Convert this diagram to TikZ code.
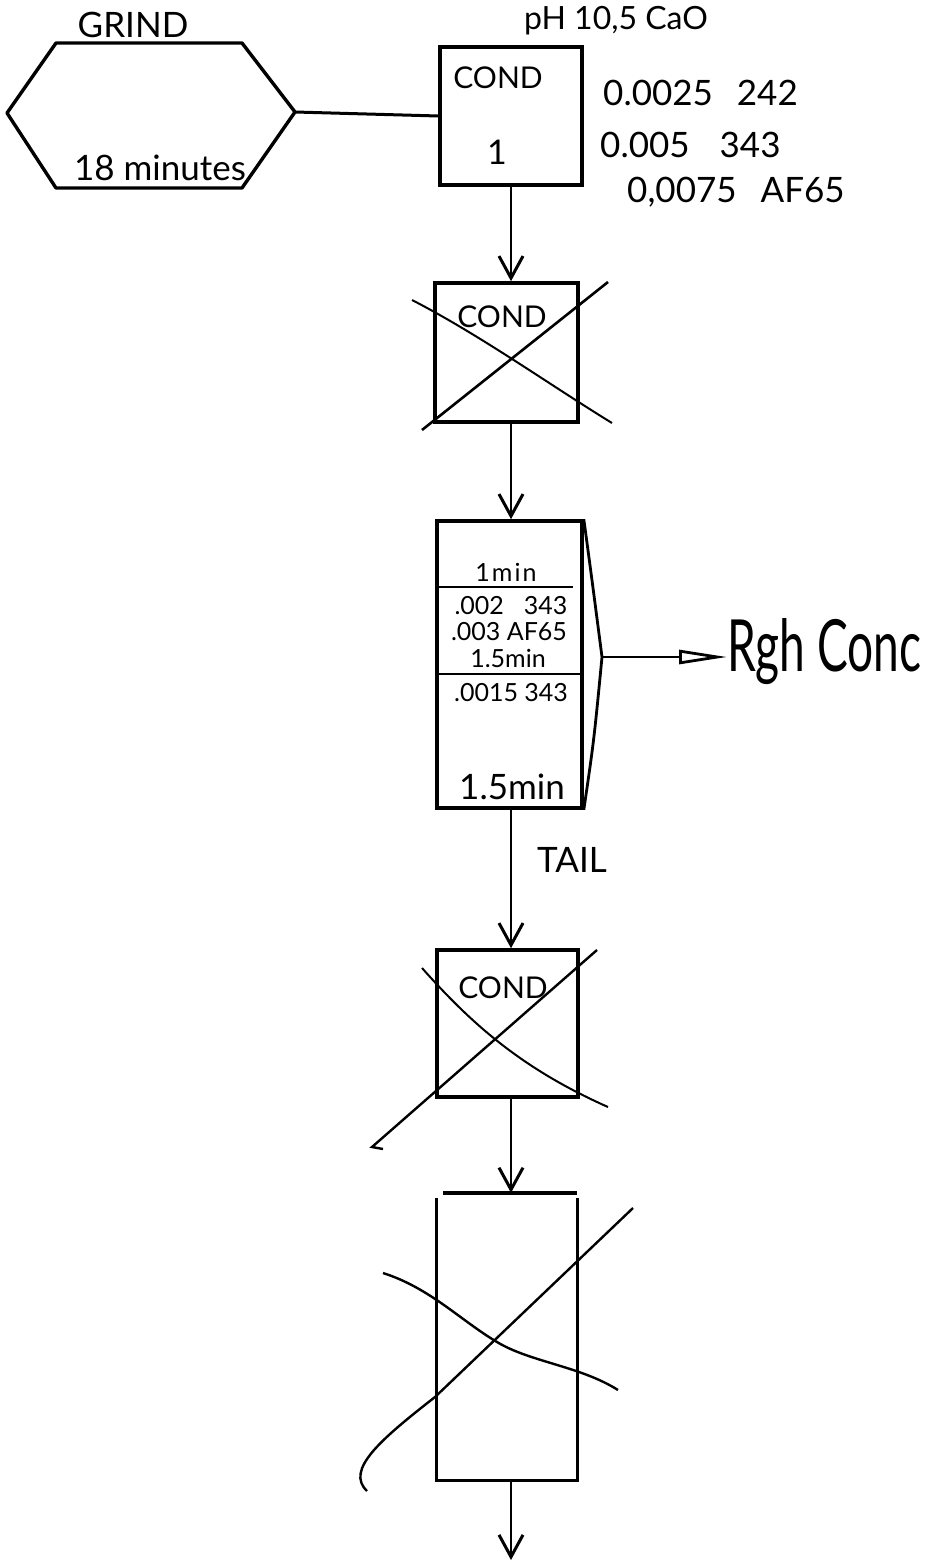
\documentclass[tikz,border=0pt]{standalone}
\usepackage{fontspec}
\usepackage{graphicx}
\setmainfont{Lato}
\usetikzlibrary{arrows.meta}
\newcommand{\hw}[1]{\fontsize{#1}{#1}\selectfont}
\begin{document}
\begin{tikzpicture}[x=1pt,y=-1pt,
  box/.style={draw, line width=3.6pt, inner sep=0pt},
  nobox/.style={draw=none, inner sep=0pt},
  flow/.style={line width=2.6pt, -{Straight Barb[length=22pt,width=24pt,line width=3pt]}},
  link/.style={line width=3pt},
  cross/.style={line width=2pt},
  txt/.style={inner sep=0pt, font=\hw{30}},
  big/.style={inner sep=0pt, font=\hw{35}},
  small/.style={inner sep=0pt, font=\hw{25}},
]
\fill[white] (0,0) rectangle (934,1563);
\useasboundingbox (0,0) rectangle (934,1563);

% hexagon GRIND
\coordinate (h1) at (7,113);
\coordinate (h2) at (56,43);
\coordinate (h3) at (242,43);
\coordinate (h4) at (295,112);
\coordinate (h5) at (242,188);
\coordinate (h6) at (56,188);
\draw[line width=3.4pt, line join=round] (h1) -- (h2) -- (h3) -- (h4) -- (h5) -- (h6) -- cycle;
\node[big] (grind) at (133,25) {GRIND};
\node[big] (mins) at (160,168) {18 minutes};

% box 1
\node[box, minimum width=142pt, minimum height=138pt] (c1) at (511,116) {};
\node[txt] (c1t) at (498,78) {COND};
\node[txt, font=\hw{34}] (c1n) at (497,152) {1};
\node[inner sep=0pt, font=\hw{32}] (ph) at (616,21) {pH 10,5 CaO};
\node[big, anchor=west] (r1) at (603,93) {0.0025\hspace{24pt}242};
\node[big, anchor=west] (r2) at (600,145) {0.005\hspace{30pt}343};
\node[big, anchor=west] (r3) at (627,192) {0,0075\hspace{24pt}AF65};
\draw[link] (h4) -- (c1.west);

% box 2 (crossed)
\node[box, minimum width=143pt, minimum height=139pt] (c2) at (506.5,352.5) {};
\node[txt] (c2t) at (502,317) {COND};
\draw[cross] (412,300) .. controls (480,335) and (550,385) .. (612,423);
\draw[cross, line width=2.6pt] (422,430) -- (608,282);
\draw[flow] (c1.south) -- (c1.south |- c2.north);

% box 3
\node[box, minimum width=145pt, minimum height=287pt] (c3) at (509.5,664.5) {};
\coordinate (tip3) at (602,657);
\draw[line width=2.8pt] (c3.north east) .. controls (592,580) .. (tip3) .. controls (594,740) .. (c3.south east);
\draw[line width=2.2pt] (437,587) -- (573,587);
\draw[line width=2.2pt] (437,674) -- (582,674);
\node[small] (m1) at (506,572) {1\hspace{2pt}m\hspace{2pt}i\hspace{2pt}n};
\node[small] (v1) at (511,606) {.002\hspace{20pt}343};
\node[small] (v2) at (509,632) {.003 AF65};
\node[small] (m2) at (508,658) {1.5min};
\node[small] (v3) at (511,693) {.0015 343};
\node[big] (m3) at (512,787) {1.5min};
\draw[flow] (c2.south -| c1.south) -- (c1.south |- c3.north);

% Rgh Conc
\node[inner sep=0pt, anchor=west, font=\hw{72}] (rgh) at (727,652) {\scalebox{0.64}[1]{Rgh Conc}};
\draw[line width=2.6pt, -{Triangle[open, length=48pt, width=14pt, line width=2.8pt]}] (tip3) -- (rgh.west |- tip3);

% box 4 (crossed)
\node[box, minimum width=141pt, minimum height=147pt] (c4) at (507.5,1023.5) {};
\node[txt] (c4t) at (503,988) {COND};
\draw[cross] (422,968) .. controls (470,1022) and (520,1068) .. (608,1107);
\draw[cross, line width=2.4pt] (597,950) -- (372,1147) -- (383,1149);
\draw[flow] (c3.south -| c1.south) -- (c1.south |- c4.north);
\node[big] (tail) at (572,860) {TAIL};

% box 5 (crossed)
\node[nobox, minimum width=140pt, minimum height=287pt] (c5) at (507,1336.5) {};
\draw[line width=3.6pt] ([xshift=6pt]c5.north west) -- (c5.north east);
\draw[line width=3.2pt] ([yshift=-5pt]c5.north west) -- (c5.south west) -- (c5.south east) -- ([yshift=-5pt]c5.north east);
\draw[cross, line width=2.4pt] (633,1208) -- (435,1397) .. controls (380,1440) and (345,1470) .. (367,1491);
\draw[cross, line width=2.4pt] (383,1273) .. controls (430,1288) and (460,1320) .. (497,1342) .. controls (530,1362) and (580,1366) .. (618,1390);
\draw[flow] (c4.south -| c1.south) -- (c1.south |- c5.north);
\coordinate (out) at (511,1560);
\draw[flow] (c5.south -| c1.south) -- (out);
\end{tikzpicture}
\end{document}
